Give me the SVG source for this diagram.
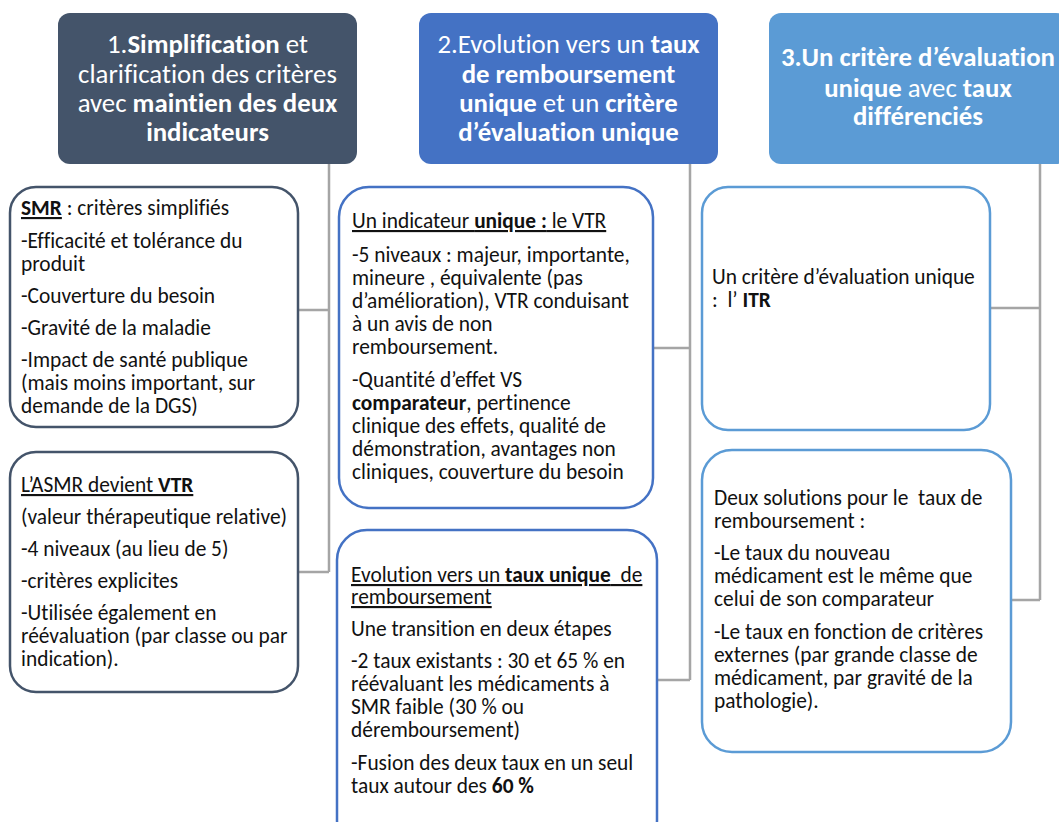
<svg xmlns="http://www.w3.org/2000/svg" width="1059" height="822" viewBox="0 0 1059 822">
<style>
text{font-family:Carlito,Lato,"Liberation Sans",sans-serif;white-space:pre;font-variant-ligatures:none}
.h{font-size:26.8px;fill:#fff;text-anchor:middle}
.t{font-size:21.4px;fill:#111}
.b{font-weight:bold}
.u{text-decoration:underline}
.conn{stroke:#A5A5A5;stroke-width:2.5;fill:none}
.box{fill:#fff;stroke-width:2.5}
</style>
<rect width="1059" height="822" fill="#fff"/>
<g id="connectors">
<path class="conn" d="M329 164V572M298 310H329M298 572H329"/>
<path class="conn" d="M690 164V680M653 348H690M657 680H690"/>
<path class="conn" d="M1040 164V600M990 308H1040M1011 600H1040"/>
</g>
<g id="h1">
<rect x="58" y="13" width="299" height="151" rx="12" fill="#44546A"/>
<text class="h" x="207.5" y="53">1.<tspan class="b">Simplification</tspan> et</text>
<text class="h" x="207.5" y="83">clarification des critères</text>
<text class="h" x="207.5" y="112">avec <tspan class="b">maintien des deux</tspan></text>
<text class="h" x="207.5" y="141"><tspan class="b">indicateurs</tspan></text>
</g>
<g id="h2">
<rect x="419" y="13" width="299" height="151" rx="12" fill="#4472C4"/>
<text class="h" x="568.5" y="53">2.Evolution vers un <tspan class="b">taux</tspan></text>
<text class="h" x="568.5" y="83"><tspan class="b">de remboursement</tspan></text>
<text class="h" x="568.5" y="112"><tspan class="b">unique</tspan> et un <tspan class="b">critère</tspan></text>
<text class="h" x="568.5" y="141"><tspan class="b">d’évaluation unique</tspan></text>
</g>
<g id="h3">
<rect x="769" y="13" width="299" height="151" rx="12" fill="#5B9BD5"/>
<text class="h" x="918" y="66"><tspan class="b">3.Un critère d’évaluation</tspan></text>
<text class="h" x="918" y="97"><tspan class="b">unique</tspan> avec <tspan class="b">taux</tspan></text>
<text class="h" x="918" y="125"><tspan class="b">différenciés</tspan></text>
</g>
<g id="smr">
<rect class="box" x="10" y="187" width="288" height="240" rx="26" stroke="#44546A"/>
<text class="t" x="21" y="215"><tspan class="b u">SMR</tspan> : critères simplifiés</text>
<text class="t" x="21" y="248">-Efficacité et tolérance du</text>
<text class="t" x="21" y="271">produit</text>
<text class="t" x="21" y="303">-Couverture du besoin</text>
<text class="t" x="21" y="335">-Gravité de la maladie</text>
<text class="t" x="21" y="367">-Impact de santé publique</text>
<text class="t" x="21" y="390">(mais moins important, sur</text>
<text class="t" x="21" y="413">demande de la DGS)</text>
</g>
<g id="asmr">
<rect class="box" x="10" y="452" width="288" height="240" rx="26" stroke="#44546A"/>
<text class="t u" x="21" y="492">L’ASMR devient <tspan class="b">VTR</tspan></text>
<text class="t" x="21" y="524">(valeur thérapeutique relative)</text>
<text class="t" x="21" y="556">-4 niveaux (au lieu de 5)</text>
<text class="t" x="21" y="588">-critères explicites</text>
<text class="t" x="21" y="620">-Utilisée également en</text>
<text class="t" x="21" y="643">réévaluation (par classe ou par</text>
<text class="t" x="21" y="666">indication).</text>
</g>
<g id="vtr">
<rect class="box" x="339" y="187" width="314" height="321" rx="30" stroke="#4472C4"/>
<text class="t u" x="352" y="228">Un indicateur <tspan class="b">unique :</tspan> le VTR</text>
<text class="t" x="352" y="262">-5 niveaux : majeur, importante,</text>
<text class="t" x="352" y="285">mineure , équivalente (pas</text>
<text class="t" x="352" y="308">d’amélioration), VTR conduisant</text>
<text class="t" x="352" y="331">à un avis de non</text>
<text class="t" x="352" y="354">remboursement.</text>
<text class="t" x="352" y="387">-Quantité d’effet VS</text>
<text class="t" x="352" y="410"><tspan class="b">comparateur</tspan>, pertinence</text>
<text class="t" x="352" y="433">clinique des effets, qualité de</text>
<text class="t" x="352" y="456">démonstration, avantages non</text>
<text class="t" x="352" y="479">cliniques, couverture du besoin</text>
</g>
<g id="taux">
<rect class="box" x="337" y="530" width="320" height="320" rx="30" stroke="#4472C4"/>
<text class="t u" x="351" y="582">Evolution vers un <tspan class="b">taux unique</tspan>  de</text>
<text class="t u" x="351" y="604">remboursement</text>
<text class="t" x="351" y="636">Une transition en deux étapes</text>
<text class="t" x="351" y="668">-2 taux existants : 30 et 65 % en</text>
<text class="t" x="351" y="691">réévaluant les médicaments à</text>
<text class="t" x="351" y="714">SMR faible (30 % ou</text>
<text class="t" x="351" y="737">déremboursement)</text>
<text class="t" x="351" y="770">-Fusion des deux taux en un seul</text>
<text class="t" x="351" y="793">taux autour des <tspan class="b">60 %</tspan></text>
</g>
<g id="itr">
<rect class="box" x="702" y="187" width="288" height="243" rx="26" stroke="#5B9BD5"/>
<text class="t" x="712" y="284">Un critère d’évaluation unique</text>
<text class="t" x="712" y="307">:  l’ <tspan class="b">ITR</tspan></text>
</g>
<g id="deux">
<rect class="box" x="702" y="450" width="309" height="302" rx="30" stroke="#5B9BD5"/>
<text class="t" x="714" y="505">Deux solutions pour le  taux de</text>
<text class="t" x="714" y="528">remboursement :</text>
<text class="t" x="714" y="560">-Le taux du nouveau</text>
<text class="t" x="714" y="583">médicament est le même que</text>
<text class="t" x="714" y="606">celui de son comparateur</text>
<text class="t" x="714" y="639">-Le taux en fonction de critères</text>
<text class="t" x="714" y="662">externes (par grande classe de</text>
<text class="t" x="714" y="685">médicament, par gravité de la</text>
<text class="t" x="714" y="708">pathologie).</text>
</g>
</svg>
